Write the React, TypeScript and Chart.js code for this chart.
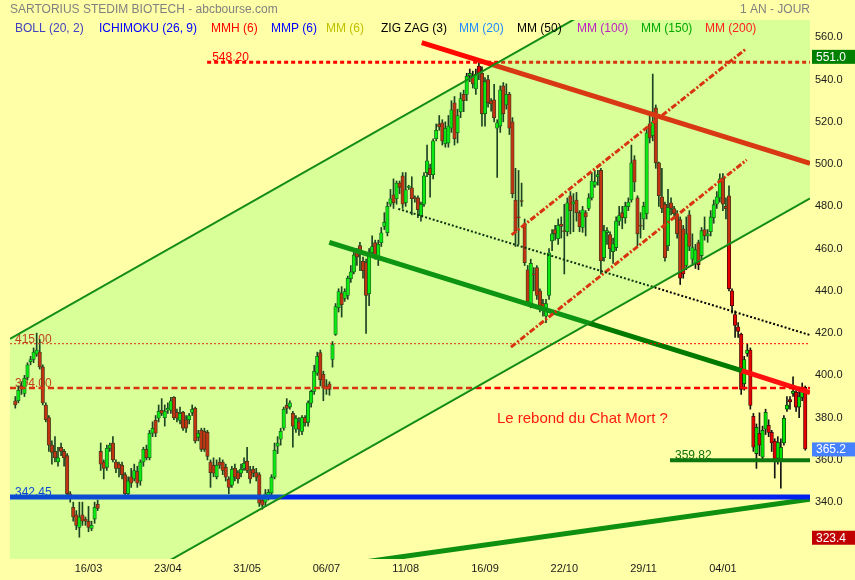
import React, { useEffect, useRef } from 'react';
import { Chart, registerables } from 'chart.js';

Chart.register(...registerables);

// ---- candle data (daily, one year) ----
const opens = [
  388, 388, 395, 391.5, 399, 406.5, 407.5, 410, 411, 404, 386, 380, 367, 364, 359, 366, 364, 362, 344, 337.6,
  334, 328, 334, 332, 331, 327.6, 332, 339, 364, 359, 356.5, 365.5, 368, 359, 358, 357.5, 353, 344, 352, 351,
  354.6, 350, 359, 365, 361, 372.6, 378.7, 379.7, 383.5, 380, 383.5, 383.5, 389.6, 382.5, 378.7, 382.5, 379, 379, 382.5, 384.4,
  370.7, 374, 373.6, 373, 359, 357.5, 352, 359, 359, 356.5, 351, 348, 356, 354, 353.7, 356, 359.4, 355, 355.6, 354,
  353, 341, 340, 342, 344.3, 351.8, 366.5, 369.8, 375, 385.8, 385, 382, 374.5, 378, 373.5, 380, 377.8, 386.8, 392.4, 401,
  410.8, 400.5, 395, 396, 407.5, 419.4, 432, 439, 436.4, 437.8, 445.8, 449, 459.5, 461.4, 454, 453.4, 438.7, 458, 462.8, 455,
  462.8, 470.5, 467.5, 481, 485.5, 483.6, 491, 494.5, 481.7, 489, 488.8, 484.2, 484, 475.6, 481, 496, 498, 495, 512, 519,
  519.5, 509.6, 510, 517, 529, 514.8, 524.7, 533, 533, 541.7, 541.7, 535.6, 546.4, 543, 523.8, 540, 530, 530.4, 517, 518,
  537, 528, 533, 520, 483, 475, 482.7, 471.8, 450, 434, 448, 451, 440, 434, 428, 437.8, 463.7, 469, 464.7, 471.5,
  468.5, 468, 485, 481, 483, 477, 470, 477, 479, 484, 490, 494, 497, 455.7, 467.6, 466.6, 458.6, 460.5, 473, 477,
  474.6, 479.8, 483, 502, 484, 471, 474, 476.5, 519, 513.4, 526.6, 500.6, 484.5, 481, 461.4, 481.7, 479, 476.5, 473.7, 469.4,
  452, 476, 455, 453, 462.8, 456.7, 469, 466, 468, 474.6, 481, 484, 493.5, 480, 485, 440, 428.8, 423, 419.4, 396,
  410.4, 412, 380.6, 363, 372.6, 361.3, 374.5, 376.4, 373, 368.8, 360.8, 360, 368, 384, 388.5, 391.5, 392, 385, 389.6, 394.3,
];
const highs = [
  390, 395, 397, 400, 406, 409, 413, 420, 417, 405, 387, 381, 369, 371, 366, 368, 365, 363, 345, 340,
  336, 340, 340, 333, 338, 331, 340, 341, 368, 360, 367, 368, 371, 360, 359, 359, 354, 352, 356, 358,
  357, 360, 366, 367, 374, 378, 381, 386, 389, 386, 387, 389.6, 390, 384, 385, 383, 381, 382, 386, 385,
  374, 375, 375, 374, 360, 361, 360, 361, 360, 358, 352, 357, 358, 355, 358, 361, 366, 357, 357, 356,
  354, 342, 346, 346, 353, 368, 371, 375, 385, 389, 388, 383, 381, 380, 381, 381, 388, 393, 404.8, 411,
  412, 402, 398, 397, 416, 434, 441, 442, 441, 447, 452, 459, 460, 463, 456, 455, 460, 466, 464, 464,
  470, 477, 482, 488, 493, 492, 492, 496, 496, 490, 494, 485, 485, 482, 496, 509, 500, 512, 519, 523,
  521, 520, 523, 530, 532, 526, 533.8, 535, 543, 545, 544, 545, 548.2, 546, 541, 542, 531, 537.8, 521, 537,
  538.6, 538, 534, 522, 498, 497, 491, 474, 452, 455, 451, 452, 441, 436, 436, 460, 469, 471, 474, 475,
  481, 484, 487, 486, 486.6, 478, 480, 478, 486, 496, 497, 497, 498, 471, 470, 468, 465, 475, 480, 480,
  482, 484, 509, 504, 485, 477, 482, 517, 523, 542.6, 528, 501, 498, 482, 488, 484, 480, 478, 475, 471,
  475, 478, 467, 462, 464, 470, 475, 469, 478, 483, 487, 495.4, 495.5, 484, 489.7, 441, 430.6, 425, 420, 409,
  415, 413, 382, 377, 382.3, 376, 384, 379, 374, 370, 371, 370, 381, 390, 390, 399.3, 394, 393, 396.4, 395,
];
const lows = [
  384.5, 387, 391, 390, 398, 405, 406, 409, 403, 386, 378, 364, 358, 359, 357, 362, 357, 343, 340, 331,
  327, 323.4, 329, 329, 326, 326.5, 330, 336, 355, 351, 355, 364, 359, 354, 352, 351, 343, 343, 347, 350,
  347, 348, 357, 360, 360, 371, 371, 378, 381, 376, 382, 382, 379, 378, 377, 374, 373, 377, 381, 368,
  369, 364, 364, 360, 347, 352, 351, 356, 353, 350, 344, 347, 350, 349, 352, 355, 354, 349, 352, 350,
  338, 336.7, 338, 341, 343, 351, 363, 367, 374, 382, 384, 366, 373, 371.6, 372, 376, 376, 385, 391, 400,
  395, 388, 391, 390.6, 403.9, 418.9, 430, 427.6, 435, 436, 444, 448, 452, 449.6, 446, 419.9, 433, 456, 455, 452,
  461, 469, 466, 480, 479, 481, 486, 479, 480, 488, 476, 482, 474.6, 473, 480, 494, 484.4, 493, 511, 516,
  509, 508, 508, 515, 509, 510, 522, 524.8, 530, 539, 536, 533, 540, 518, 518, 527, 525, 520, 493.7, 515,
  520, 526, 514, 484, 461, 462, 480, 452, 433, 432, 440, 436, 430, 428, 425, 436, 459, 464, 462, 465,
  448, 466, 467, 468, 473, 468, 467.7, 466, 478, 483, 489, 490, 448, 454, 462, 455.3, 453, 459, 471, 469.4,
  472, 478, 482, 487, 461.4, 465, 469, 474, 510, 511, 498, 480, 477, 454, 459, 476, 474, 465, 443, 446,
  450, 459, 452, 450.6, 450, 455, 464, 463, 466, 472, 479, 482, 478, 474, 440, 429.5, 418, 418, 391, 393,
  409, 384, 364, 356, 362, 360, 372, 371, 364, 351.4, 358, 346.6, 367, 383, 384, 390, 383, 380, 388, 364.6,
];
const closes = [
  386, 393, 393.5, 398.6, 405, 407.5, 411, 412, 404, 387, 379, 367, 363.6, 361, 361, 364, 361, 344, 342, 333,
  329, 333, 331, 331, 328, 329, 337.6, 337, 358, 356, 365.5, 367, 360, 356, 356, 353, 344, 350, 349, 355,
  349, 359, 365, 361, 372.6, 375, 372.6, 383, 382, 383, 384.4, 388, 380, 379.7, 382, 375, 375, 381, 384, 369,
  372.6, 365, 365, 361.7, 354, 353.7, 357.5, 357.5, 355, 351.8, 347, 355.6, 351.8, 351, 355.6, 358.4, 355, 351, 353.7, 351.8,
  339.5, 338.6, 344, 344.7, 351.8, 364.6, 368, 373.5, 384, 384.4, 387, 376, 379.7, 374.5, 380, 377.5, 387, 392.4, 402, 409,
  398, 393.9, 394.6, 393.4, 414.6, 432.6, 439.7, 433.5, 439.7, 446, 449, 457, 456, 458.6, 449.6, 437.8, 457.6, 461, 456, 462,
  467.5, 472.5, 480, 483.6, 481.7, 491, 489, 481, 487.8, 489.5, 483.6, 483.6, 478.4, 481, 494.5, 501.6, 495, 511, 516, 517.6,
  511, 517, 518, 525.7, 512, 523, 531, 530, 541.7, 543, 538, 542.6, 542.6, 523.8, 539, 529, 528.5, 522, 519.5, 535,
  523.8, 533, 517, 486, 468.5, 474.5, 482.3, 453.4, 435, 453, 447.6, 437.8, 433, 431, 434, 458, 467, 467, 471, 470.5,
  468, 481.7, 478, 482, 477, 470.4, 478.4, 475, 484, 492, 491.6, 495, 454.3, 468.5, 468.5, 460, 462.3, 473, 475.6, 474.6,
  480, 482, 500.6, 491.6, 467, 470.6, 480, 514.8, 512.4, 520, 500.6, 485, 479, 455.7, 479.4, 479, 476.5, 467, 446, 448,
  467, 461, 460.5, 459.5, 452.4, 468.5, 466, 467, 475, 480.8, 484.5, 493, 481, 478.9, 441, 433, 423.6, 420.8, 393.4, 407.5,
  412, 385.8, 366, 375.4, 367, 374, 382.5, 373, 368, 360, 368.3, 366, 379.7, 386, 387.5, 392.5, 385, 390, 393, 365.2,
];

// ---- axes ----
const X_MIN = -1.74;
const X_MAX = 260.56;
const Y_MIN = 313.1;
const Y_MAX = 568.2;
const xTickIndex = [24, 50, 76, 102, 128, 154, 180, 206, 232];
const xTickLabels = ['16/03', '23/04', '31/05', '06/07', '11/08', '16/09', '22/10', '29/11', '04/01'];
const yTickValues = [340, 360, 380, 400, 420, 440, 460, 480, 500, 520, 540, 560];

// ---- drawn trend lines: [candle index, price] ----
const channelUpper = [[X_MIN, 417.3], [X_MAX, 631.7]];
const channelLower = [[X_MIN, 269.7], [X_MAX, 483.8]];
const resistanceRed = [[133.25, 557.5], [X_MAX, 500.3]];
const supportGreen = [[102.95, 463.0], [238.16, 402.3]];
const supportBroken = [[238.16, 402.3], [X_MAX, 391.8]];
const risingSupport = [[115, 311.8], [X_MAX, 341.4]];
const zigzagTrend = [[125.57, 478.8], [X_MAX, 419.1]];
const bullChannelTop = [[162.75, 466.5], [239.8, 554.8]];
const bullChannelBottom = [[162.52, 413.4], [239.8, 502.0]];

// ---- horizontal levels ----
const levelValues = [548.2, 415.0, 394.0, 342.45, 359.82];
const levelStart = [62.9, X_MIN, X_MIN, X_MIN, 214.66];
const levelLabels = ['548.20', '415.00', '394.00', '342.45', '359.82'];

// ---- right axis markers ----
const markerValues = [551.0, 365.2, 323.4];
const markerColors = ['#008000', '#4682ff', '#c00000'];

// ---- header ----
const chartTitle = 'SARTORIUS STEDIM BIOTECH - abcbourse.com';
const periodLabel = '1 AN - JOUR';
const legendNames = ['BOLL (20, 2)', 'ICHIMOKU (26, 9)', 'MMH (6)', 'MMP (6)', 'MM (6)', 'ZIG ZAG (3)', 'MM (20)', 'MM (50)', 'MM (100)', 'MM (150)', 'MM (200)'];
const legendColors = ['#4040c0', '#0000ff', '#ff0000', '#0000ff', '#c0c000', '#000000', '#1e8cff', '#000000', '#c020c0', '#00a800', '#ff2020'];
const legendX = [15, 99, 211, 271, 326, 381, 459, 517, 577, 641, 705];

const noteText = 'Le rebond du Chat Mort ?';
const notePos = [157.9, 377.6];

const FONT = '"Liberation Sans", Arial, sans-serif';
const BG = '#ffffa8';
const OVERLAY = 'rgba(60,255,90,0.2)';

function lineDs(pts: number[][], color: string, width: number, dash: number[] = []) {
  return {
    type: 'line' as const,
    data: pts.map(([x, y]) => ({ x, y })),
    borderColor: color,
    borderWidth: width,
    borderDash: dash,
    borderCapStyle: 'butt' as const,
    pointRadius: 0,
    fill: false,
    tension: 0,
    order: 0,
  };
}

const decorPlugin = {
  id: 'decor',
  beforeDraw(chart: any) {
    const ctx = chart.ctx;
    ctx.save();
    ctx.fillStyle = BG;
    ctx.fillRect(0, 0, chart.width, chart.height);
    ctx.restore();
  },
  beforeDatasetsDraw(chart: any) {
    const { ctx, chartArea, scales } = chart;
    const xs = scales.x, ys = scales.y;
    ctx.save();
    ctx.beginPath();
    ctx.rect(chartArea.left, chartArea.top, chartArea.right - chartArea.left, chartArea.bottom - chartArea.top);
    ctx.clip();
    ctx.font = '12px ' + FONT;
    ctx.textBaseline = 'alphabetic';
    ctx.textAlign = 'left';
    const labelColors = ['#ff0000', '#e01010', '#e01010', '#0020f0', '#107010'];
    levelValues.forEach((v, i) => {
      const x = Math.max(xs.getPixelForValue(levelStart[i]), chartArea.left) + 5;
      const y = ys.getPixelForValue(v) - 1;
      ctx.fillStyle = labelColors[i];
      ctx.fillText(levelLabels[i], x, y);
    });
    ctx.font = '15px ' + FONT;
    ctx.fillStyle = '#ff1a10';
    ctx.fillText(noteText, xs.getPixelForValue(notePos[0]), ys.getPixelForValue(notePos[1]));
    ctx.restore();
  },
  afterDatasetsDraw(chart: any) {
    const { ctx, chartArea, scales } = chart;
    const xs = scales.x, ys = scales.y;
    const p = (pt: number[]) => [xs.getPixelForValue(pt[0]), ys.getPixelForValue(pt[1])];
    const a = p(channelUpper[0]), b = p(channelUpper[1]), c = p(channelLower[1]), d = p(channelLower[0]);
    ctx.save();
    ctx.beginPath();
    ctx.rect(chartArea.left, chartArea.top, chartArea.right - chartArea.left, chartArea.bottom - chartArea.top);
    ctx.clip();
    ctx.beginPath();
    ctx.moveTo(a[0], a[1]);
    ctx.lineTo(b[0], b[1]);
    ctx.lineTo(c[0], c[1]);
    ctx.lineTo(d[0], d[1]);
    ctx.closePath();
    ctx.fillStyle = OVERLAY;
    ctx.fill();
    ctx.restore();
  },
  afterDraw(chart: any) {
    const { ctx, chartArea, scales } = chart;
    const ys = scales.y;
    ctx.save();
    ctx.font = '12px ' + FONT;
    ctx.textBaseline = 'alphabetic';
    ctx.textAlign = 'left';
    ctx.fillStyle = '#808080';
    ctx.fillText(chartTitle, 10, 13);
    ctx.textAlign = 'right';
    ctx.fillText(periodLabel, chartArea.right, 13);
    ctx.textAlign = 'left';
    legendNames.forEach((name, i) => {
      ctx.fillStyle = legendColors[i];
      ctx.fillText(name, legendX[i], 32);
    });
    markerValues.forEach((v, i) => {
      const y = ys.getPixelForValue(v);
      ctx.fillStyle = markerColors[i];
      ctx.fillRect(chartArea.right + 2, y - 6.5, chart.width - chartArea.right - 2, 14);
      ctx.fillStyle = '#ffffff';
      ctx.textBaseline = 'middle';
      ctx.fillText(v.toFixed(1), chartArea.right + 6, y + 1);
    });
    ctx.restore();
  },
};

export default function App() {
  const ref = useRef<HTMLCanvasElement | null>(null);
  useEffect(() => {
    if (!ref.current) return;
    const idx = opens.map((_, i) => i);
    const up = idx.map((i) => closes[i] >= opens[i]);
    const wickData = idx.map((i) => ({ x: i, y: [lows[i], highs[i]] }));
    const bodyData = idx.map((i) => ({ x: i, y: [Math.min(opens[i], closes[i]), Math.max(opens[i], closes[i])] }));

    const chart = new Chart(ref.current, {
      type: 'bar',
      data: {
        datasets: [
          {
            type: 'bar',
            data: wickData as any,
            backgroundColor: '#141414',
            borderWidth: 0,
            barThickness: 1,
            grouped: false,
            order: 3,
          } as any,
          {
            type: 'bar',
            data: bodyData as any,
            backgroundColor: up.map((u) => (u ? '#00e400' : '#e40000')),
            borderColor: up.map((u) => (u ? '#0a3a0a' : '#3a0a0a')),
            borderWidth: 0.8,
            borderSkipped: false,
            barThickness: 3.5,
            minBarLength: 1,
            grouped: false,
            order: 2,
          } as any,
          lineDs(channelUpper, '#108010', 2),
          lineDs(channelLower, '#108010', 2),
          lineDs([[levelStart[1], levelValues[1]], [X_MAX, levelValues[1]]], '#ff0000', 1, [2, 2]),
          lineDs([[levelStart[2], levelValues[2]], [X_MAX, levelValues[2]]], '#ff0000', 2.5, [6, 3.5]),
          lineDs([[levelStart[0], levelValues[0]], [X_MAX, levelValues[0]]], '#ff0000', 3, [4, 3]),
          lineDs([[levelStart[3], levelValues[3]], [X_MAX, levelValues[3]]], '#0020f0', 5),
          lineDs([[levelStart[4], levelValues[4]], [X_MAX, levelValues[4]]], '#0e780e', 4),
          lineDs(zigzagTrend, '#000000', 2, [2, 2]),
          lineDs(bullChannelTop, '#ff0000', 3, [6, 2, 2, 2]),
          lineDs(bullChannelBottom, '#ff0000', 3, [6, 2, 2, 2]),
          lineDs(supportGreen, '#007a00', 5),
          lineDs(supportBroken, '#ff1010', 5),
          lineDs(risingSupport, '#109010', 5),
          lineDs(resistanceRed, '#ff0800', 5),
        ] as any,
      },
      options: {
        animation: false,
        responsive: false,
        maintainAspectRatio: false,
        devicePixelRatio: 1,
        layout: { padding: { left: 10, top: 20, right: 0, bottom: 0 } },
        plugins: {
          legend: { display: false },
          tooltip: { enabled: false },
          title: { display: false },
        },
        events: [],
        scales: {
          x: {
            type: 'linear',
            min: X_MIN,
            max: X_MAX,
            offset: false,
            grid: { display: false, drawTicks: false, offset: false },
            border: { display: false },
            afterBuildTicks: (s: any) => {
              s.ticks = xTickIndex.map((v) => ({ value: v }));
            },
            afterFit: (s: any) => {
              s.height = 21;
              s.paddingLeft = 0;
              s.paddingRight = 0;
            },
            ticks: {
              autoSkip: false,
              maxRotation: 0,
              padding: 3,
              color: '#1a1a1a',
              font: { family: FONT, size: 11 },
              callback: (_v: any, i: number) => xTickLabels[i],
            },
          },
          y: {
            type: 'linear',
            position: 'right',
            min: Y_MIN,
            max: Y_MAX,
            grid: { display: false, drawTicks: false },
            border: { display: false },
            afterBuildTicks: (s: any) => {
              s.ticks = yTickValues.map((v) => ({ value: v }));
            },
            afterFit: (s: any) => {
              s.width = 45;
              s.paddingTop = 0;
              s.paddingBottom = 0;
            },
            ticks: {
              padding: 5,
              color: '#1a1a1a',
              font: { family: FONT, size: 11 },
              callback: (v: any) => Number(v).toFixed(1),
            },
          },
        },
      } as any,
      plugins: [decorPlugin],
    });
    return () => chart.destroy();
  }, []);

  return (
    <div style={{ position: 'fixed', left: 0, top: 0, width: 855, height: 580, background: BG }}>
      <canvas ref={ref} width={855} height={580} style={{ display: 'block' }} />
    </div>
  );
}
